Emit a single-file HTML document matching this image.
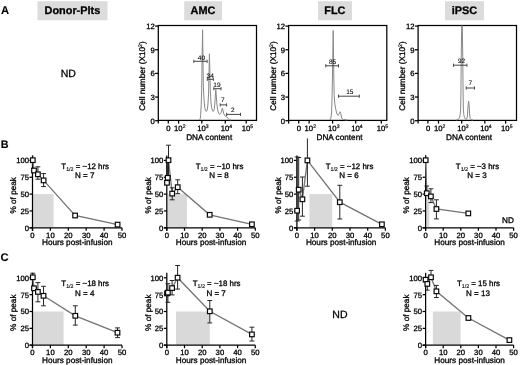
<!DOCTYPE html>
<html lang="en">
<head>
<meta charset="utf-8">
<title>Figure</title>
<style>
html,body{margin:0;padding:0;background:#fff;}
svg{display:block;will-change:transform;font-family:"Liberation Sans",Arial,Helvetica,sans-serif;fill:#000;text-rendering:geometricPrecision;}
text{stroke:#000;stroke-width:0.3px;stroke-linejoin:round;}
</style>
</head>
<body>
<svg width="520" height="365" viewBox="0 0 520 365">
<rect x="0" y="0" width="520" height="365" fill="#fff"/>
<text x="0.90" y="13.80" font-size="11.2" text-anchor="start" font-weight="bold" style="stroke-width:0.1px">A</text>
<text x="0.70" y="147.70" font-size="10.8" text-anchor="start" font-weight="bold" style="stroke-width:0.1px">B</text>
<text x="0.60" y="261.40" font-size="11.2" text-anchor="start" font-weight="bold" style="stroke-width:0.1px">C</text>
<rect x="37.50" y="1.20" width="70.00" height="19.10" fill="#dcdcdc"/>
<text x="72.40" y="14.35" font-size="10.9" text-anchor="middle" font-weight="bold">Donor-Plts</text>
<rect x="184.20" y="1.20" width="37.80" height="19.10" fill="#dcdcdc"/>
<text x="203.00" y="14.35" font-size="10.9" text-anchor="middle" font-weight="bold">AMC</text>
<rect x="318.00" y="1.20" width="34.00" height="19.10" fill="#dcdcdc"/>
<text x="334.90" y="14.35" font-size="10.9" text-anchor="middle" font-weight="bold">FLC</text>
<rect x="445.00" y="1.20" width="39.00" height="19.10" fill="#dcdcdc"/>
<text x="464.40" y="14.35" font-size="10.9" text-anchor="middle" font-weight="bold">iPSC</text>
<text x="68.30" y="77.20" font-size="10.5" text-anchor="middle">ND</text>
<text x="339.90" y="318.00" font-size="10.5" text-anchor="middle">ND</text>
<rect x="158.30" y="25.50" width="98.20" height="94.90" fill="none" stroke="#000" stroke-width="1.25"/>
<line x1="155.10" y1="26.10" x2="158.30" y2="26.10" stroke="#000" stroke-width="1.25"/>
<text x="154.70" y="29.00" font-size="7.7" text-anchor="end">12</text>
<line x1="155.10" y1="49.75" x2="158.30" y2="49.75" stroke="#000" stroke-width="1.25"/>
<text x="154.70" y="52.65" font-size="7.7" text-anchor="end">9</text>
<line x1="155.10" y1="73.40" x2="158.30" y2="73.40" stroke="#000" stroke-width="1.25"/>
<text x="154.70" y="76.30" font-size="7.7" text-anchor="end">6</text>
<line x1="155.10" y1="97.05" x2="158.30" y2="97.05" stroke="#000" stroke-width="1.25"/>
<text x="154.70" y="99.95" font-size="7.7" text-anchor="end">3</text>
<line x1="155.10" y1="120.70" x2="158.30" y2="120.70" stroke="#000" stroke-width="1.25"/>
<text x="154.70" y="123.60" font-size="7.7" text-anchor="end">0</text>
<line x1="168.30" y1="120.40" x2="168.30" y2="123.60" stroke="#000" stroke-width="1.25"/>
<text x="168.50" y="131.40" font-size="7.7" text-anchor="middle">0</text>
<line x1="178.60" y1="120.40" x2="178.60" y2="123.60" stroke="#000" stroke-width="1.25"/>
<text x="179.80" y="131.40" font-size="7.7" text-anchor="middle">10<tspan dy="-3" font-size="5.1" style="stroke-width:0.18px">2</tspan></text>
<line x1="201.80" y1="120.40" x2="201.80" y2="123.60" stroke="#000" stroke-width="1.25"/>
<text x="203.00" y="131.40" font-size="7.7" text-anchor="middle">10<tspan dy="-3" font-size="5.1" style="stroke-width:0.18px">3</tspan></text>
<line x1="225.30" y1="120.40" x2="225.30" y2="123.60" stroke="#000" stroke-width="1.25"/>
<text x="226.50" y="131.40" font-size="7.7" text-anchor="middle">10<tspan dy="-3" font-size="5.1" style="stroke-width:0.18px">4</tspan></text>
<line x1="246.20" y1="120.40" x2="246.20" y2="123.60" stroke="#000" stroke-width="1.25"/>
<text x="247.40" y="131.40" font-size="7.7" text-anchor="middle">10<tspan dy="-3" font-size="5.1" style="stroke-width:0.18px">5</tspan></text>
<line x1="158.30" y1="120.40" x2="158.30" y2="123.60" stroke="#000" stroke-width="1.25"/>
<text x="209.20" y="139.50" font-size="8.2" text-anchor="middle">DNA content</text>
<text transform="translate(145.30,76.00) rotate(-90)" font-size="8.2" text-anchor="middle">Cell number (X10<tspan dy="-3" font-size="5.1" style="stroke-width:0.18px">2</tspan><tspan dy="3">)</tspan></text>
<path d="M199.6,120 L200.3,118.5 L200.7,115 L201.2,105 L201.7,90 L202.05,60 L202.6,29.8 L203.0,60 L203.3,85 L204.0,100 L204.8,107.7 L205.5,110.5 L206.3,111.4 L207.2,110 L207.9,105 L208.5,95 L208.95,75 L209.45,53.8 L209.95,75 L210.3,90 L210.9,101 L211.6,107.5 L212.5,110.8 L213.4,111.4 L214.2,109.5 L214.8,104 L215.3,96 L215.8,89.6 L216.3,96 L216.9,104 L217.7,110 L218.7,113.5 L219.8,114.4 L220.8,113.3 L221.6,111 L222.4,108.2 L223.1,111 L223.9,114 L225.1,115.9 L226.2,116.6 L227.4,117.4 L228.4,118.9 L229.5,119.6 L231,120" fill="none" stroke="#888888" stroke-width="1.0" stroke-linejoin="round"/>
<line x1="193.80" y1="61.30" x2="207.10" y2="61.30" stroke="#3a3a3a" stroke-width="0.95"/>
<line x1="193.80" y1="59.70" x2="193.80" y2="62.90" stroke="#3a3a3a" stroke-width="0.9"/>
<line x1="207.10" y1="59.70" x2="207.10" y2="62.90" stroke="#3a3a3a" stroke-width="0.9"/>
<text x="201.40" y="59.90" font-size="6.5" text-anchor="middle" style="stroke-width:0.08px">40</text>
<line x1="207.30" y1="79.30" x2="213.40" y2="79.30" stroke="#3a3a3a" stroke-width="0.95"/>
<line x1="207.30" y1="77.70" x2="207.30" y2="80.90" stroke="#3a3a3a" stroke-width="0.9"/>
<line x1="213.40" y1="77.70" x2="213.40" y2="80.90" stroke="#3a3a3a" stroke-width="0.9"/>
<text x="210.20" y="77.50" font-size="6.5" text-anchor="middle" style="stroke-width:0.08px">34</text>
<line x1="213.80" y1="88.70" x2="221.00" y2="88.70" stroke="#3a3a3a" stroke-width="0.95"/>
<line x1="213.80" y1="87.10" x2="213.80" y2="90.30" stroke="#3a3a3a" stroke-width="0.9"/>
<line x1="221.00" y1="87.10" x2="221.00" y2="90.30" stroke="#3a3a3a" stroke-width="0.9"/>
<text x="216.90" y="86.90" font-size="6.5" text-anchor="middle" style="stroke-width:0.08px">19</text>
<line x1="220.20" y1="104.90" x2="226.60" y2="104.90" stroke="#3a3a3a" stroke-width="0.95"/>
<line x1="220.20" y1="103.30" x2="220.20" y2="106.50" stroke="#3a3a3a" stroke-width="0.9"/>
<line x1="226.60" y1="103.30" x2="226.60" y2="106.50" stroke="#3a3a3a" stroke-width="0.9"/>
<text x="222.90" y="102.40" font-size="6.5" text-anchor="middle" style="stroke-width:0.08px">7</text>
<line x1="226.60" y1="114.40" x2="240.50" y2="114.40" stroke="#3a3a3a" stroke-width="0.95"/>
<line x1="226.60" y1="112.80" x2="226.60" y2="116.00" stroke="#3a3a3a" stroke-width="0.9"/>
<line x1="240.50" y1="112.80" x2="240.50" y2="116.00" stroke="#3a3a3a" stroke-width="0.9"/>
<text x="232.70" y="112.20" font-size="6.5" text-anchor="middle" style="stroke-width:0.08px">2</text>
<rect x="288.60" y="25.50" width="98.20" height="94.90" fill="none" stroke="#000" stroke-width="1.25"/>
<line x1="285.40" y1="26.10" x2="288.60" y2="26.10" stroke="#000" stroke-width="1.25"/>
<text x="285.00" y="29.00" font-size="7.7" text-anchor="end">12</text>
<line x1="285.40" y1="49.75" x2="288.60" y2="49.75" stroke="#000" stroke-width="1.25"/>
<text x="285.00" y="52.65" font-size="7.7" text-anchor="end">9</text>
<line x1="285.40" y1="73.40" x2="288.60" y2="73.40" stroke="#000" stroke-width="1.25"/>
<text x="285.00" y="76.30" font-size="7.7" text-anchor="end">6</text>
<line x1="285.40" y1="97.05" x2="288.60" y2="97.05" stroke="#000" stroke-width="1.25"/>
<text x="285.00" y="99.95" font-size="7.7" text-anchor="end">3</text>
<line x1="285.40" y1="120.70" x2="288.60" y2="120.70" stroke="#000" stroke-width="1.25"/>
<text x="285.00" y="123.60" font-size="7.7" text-anchor="end">0</text>
<line x1="298.70" y1="120.40" x2="298.70" y2="123.60" stroke="#000" stroke-width="1.25"/>
<text x="298.90" y="131.40" font-size="7.7" text-anchor="middle">0</text>
<line x1="309.10" y1="120.40" x2="309.10" y2="123.60" stroke="#000" stroke-width="1.25"/>
<text x="310.30" y="131.40" font-size="7.7" text-anchor="middle">10<tspan dy="-3" font-size="5.1" style="stroke-width:0.18px">2</tspan></text>
<line x1="332.60" y1="120.40" x2="332.60" y2="123.60" stroke="#000" stroke-width="1.25"/>
<text x="333.80" y="131.40" font-size="7.7" text-anchor="middle">10<tspan dy="-3" font-size="5.1" style="stroke-width:0.18px">3</tspan></text>
<line x1="355.70" y1="120.40" x2="355.70" y2="123.60" stroke="#000" stroke-width="1.25"/>
<text x="356.90" y="131.40" font-size="7.7" text-anchor="middle">10<tspan dy="-3" font-size="5.1" style="stroke-width:0.18px">4</tspan></text>
<line x1="381.30" y1="120.40" x2="381.30" y2="123.60" stroke="#000" stroke-width="1.25"/>
<text x="382.50" y="131.40" font-size="7.7" text-anchor="middle">10<tspan dy="-3" font-size="5.1" style="stroke-width:0.18px">5</tspan></text>
<line x1="288.60" y1="120.40" x2="288.60" y2="123.60" stroke="#000" stroke-width="1.25"/>
<text x="339.50" y="139.50" font-size="8.2" text-anchor="middle">DNA content</text>
<text transform="translate(275.60,76.00) rotate(-90)" font-size="8.2" text-anchor="middle">Cell number (X10<tspan dy="-3" font-size="5.1" style="stroke-width:0.18px">2</tspan><tspan dy="3">)</tspan></text>
<path d="M329.8,120 L330.6,119 L331.2,116 L331.6,112 L332.0,100 L332.5,75 L333.2,30.5 L333.8,75 L334.2,95.5 L334.8,104 L335.75,109.2 L336.6,113 L337.8,115.4 L338.8,114.5 L339.5,112.5 L340.1,111.7 L340.8,113.5 L341.4,117 L341.9,118.6 L343.5,119.5 L347.4,120" fill="none" stroke="#888888" stroke-width="1.0" stroke-linejoin="round"/>
<line x1="325.75" y1="65.80" x2="338.50" y2="65.80" stroke="#3a3a3a" stroke-width="0.95"/>
<line x1="325.75" y1="64.20" x2="325.75" y2="67.40" stroke="#3a3a3a" stroke-width="0.9"/>
<line x1="338.50" y1="64.20" x2="338.50" y2="67.40" stroke="#3a3a3a" stroke-width="0.9"/>
<text x="332.50" y="63.80" font-size="6.5" text-anchor="middle" style="stroke-width:0.08px">85</text>
<line x1="338.50" y1="96.20" x2="359.30" y2="96.20" stroke="#3a3a3a" stroke-width="0.95"/>
<line x1="338.50" y1="94.60" x2="338.50" y2="97.80" stroke="#3a3a3a" stroke-width="0.9"/>
<line x1="359.30" y1="94.60" x2="359.30" y2="97.80" stroke="#3a3a3a" stroke-width="0.9"/>
<text x="349.80" y="93.50" font-size="6.5" text-anchor="middle" style="stroke-width:0.08px">15</text>
<rect x="418.10" y="25.50" width="98.40" height="94.90" fill="none" stroke="#000" stroke-width="1.25"/>
<line x1="414.90" y1="26.10" x2="418.10" y2="26.10" stroke="#000" stroke-width="1.25"/>
<text x="414.50" y="29.00" font-size="7.7" text-anchor="end">12</text>
<line x1="414.90" y1="49.75" x2="418.10" y2="49.75" stroke="#000" stroke-width="1.25"/>
<text x="414.50" y="52.65" font-size="7.7" text-anchor="end">9</text>
<line x1="414.90" y1="73.40" x2="418.10" y2="73.40" stroke="#000" stroke-width="1.25"/>
<text x="414.50" y="76.30" font-size="7.7" text-anchor="end">6</text>
<line x1="414.90" y1="97.05" x2="418.10" y2="97.05" stroke="#000" stroke-width="1.25"/>
<text x="414.50" y="99.95" font-size="7.7" text-anchor="end">3</text>
<line x1="414.90" y1="120.70" x2="418.10" y2="120.70" stroke="#000" stroke-width="1.25"/>
<text x="414.50" y="123.60" font-size="7.7" text-anchor="end">0</text>
<line x1="427.90" y1="120.40" x2="427.90" y2="123.60" stroke="#000" stroke-width="1.25"/>
<text x="428.10" y="131.40" font-size="7.7" text-anchor="middle">0</text>
<line x1="438.50" y1="120.40" x2="438.50" y2="123.60" stroke="#000" stroke-width="1.25"/>
<text x="439.70" y="131.40" font-size="7.7" text-anchor="middle">10<tspan dy="-3" font-size="5.1" style="stroke-width:0.18px">2</tspan></text>
<line x1="461.70" y1="120.40" x2="461.70" y2="123.60" stroke="#000" stroke-width="1.25"/>
<text x="462.90" y="131.40" font-size="7.7" text-anchor="middle">10<tspan dy="-3" font-size="5.1" style="stroke-width:0.18px">3</tspan></text>
<line x1="484.80" y1="120.40" x2="484.80" y2="123.60" stroke="#000" stroke-width="1.25"/>
<text x="486.00" y="131.40" font-size="7.7" text-anchor="middle">10<tspan dy="-3" font-size="5.1" style="stroke-width:0.18px">4</tspan></text>
<line x1="505.60" y1="120.40" x2="505.60" y2="123.60" stroke="#000" stroke-width="1.25"/>
<text x="506.80" y="131.40" font-size="7.7" text-anchor="middle">10<tspan dy="-3" font-size="5.1" style="stroke-width:0.18px">5</tspan></text>
<line x1="418.10" y1="120.40" x2="418.10" y2="123.60" stroke="#000" stroke-width="1.25"/>
<text x="469.10" y="139.50" font-size="8.2" text-anchor="middle">DNA content</text>
<text transform="translate(405.10,76.00) rotate(-90)" font-size="8.2" text-anchor="middle">Cell number (X10<tspan dy="-3" font-size="5.1" style="stroke-width:0.18px">2</tspan><tspan dy="3">)</tspan></text>
<path d="M456,120 L457.5,119.6 L458.8,118.8 L459.6,117.3 L460.2,114.5 L460.6,110 L460.9,95 L461.2,60 L461.7,25.8 L462.3,25.8 L462.8,60 L463.1,95 L463.4,110 L463.8,114.5 L464.4,117.3 L465.2,118.8 L466.2,119.4 L466.9,118.8 L467.5,115 L468.0,106 L468.6,101 L469.2,106 L469.7,115 L470.3,118.8 L471.2,119.7 L473,120" fill="none" stroke="#888888" stroke-width="1.0" stroke-linejoin="round"/>
<line x1="453.50" y1="65.20" x2="466.90" y2="65.20" stroke="#3a3a3a" stroke-width="0.95"/>
<line x1="453.50" y1="63.60" x2="453.50" y2="66.80" stroke="#3a3a3a" stroke-width="0.9"/>
<line x1="466.90" y1="63.60" x2="466.90" y2="66.80" stroke="#3a3a3a" stroke-width="0.9"/>
<text x="461.60" y="63.10" font-size="6.5" text-anchor="middle" style="stroke-width:0.08px">92</text>
<line x1="466.20" y1="88.00" x2="474.50" y2="88.00" stroke="#3a3a3a" stroke-width="0.95"/>
<line x1="466.20" y1="86.40" x2="466.20" y2="89.60" stroke="#3a3a3a" stroke-width="0.9"/>
<line x1="474.50" y1="86.40" x2="474.50" y2="89.60" stroke="#3a3a3a" stroke-width="0.9"/>
<text x="470.30" y="85.30" font-size="6.5" text-anchor="middle" style="stroke-width:0.08px">7</text>
<rect x="33.10" y="194.10" width="20.50" height="33.30" fill="#d9d9d9"/>
<line x1="32.50" y1="155.40" x2="32.50" y2="230.80" stroke="#000" stroke-width="1.25"/>
<line x1="29.50" y1="227.80" x2="122.00" y2="227.80" stroke="#000" stroke-width="1.25"/>
<line x1="29.50" y1="227.80" x2="32.50" y2="227.80" stroke="#000" stroke-width="1.25"/>
<text x="29.00" y="230.70" font-size="7.7" text-anchor="end">0</text>
<line x1="29.50" y1="210.95" x2="32.50" y2="210.95" stroke="#000" stroke-width="1.25"/>
<text x="29.00" y="213.85" font-size="7.7" text-anchor="end">25</text>
<line x1="29.50" y1="194.10" x2="32.50" y2="194.10" stroke="#000" stroke-width="1.25"/>
<text x="29.00" y="197.00" font-size="7.7" text-anchor="end">50</text>
<line x1="29.50" y1="177.25" x2="32.50" y2="177.25" stroke="#000" stroke-width="1.25"/>
<text x="29.00" y="180.15" font-size="7.7" text-anchor="end">75</text>
<line x1="29.50" y1="160.40" x2="32.50" y2="160.40" stroke="#000" stroke-width="1.25"/>
<text x="29.00" y="163.30" font-size="7.7" text-anchor="end">100</text>
<line x1="32.50" y1="227.80" x2="32.50" y2="230.80" stroke="#000" stroke-width="1.25"/>
<text x="32.50" y="237.90" font-size="7.7" text-anchor="middle">0</text>
<line x1="50.40" y1="227.80" x2="50.40" y2="230.80" stroke="#000" stroke-width="1.25"/>
<text x="50.40" y="237.90" font-size="7.7" text-anchor="middle">10</text>
<line x1="68.30" y1="227.80" x2="68.30" y2="230.80" stroke="#000" stroke-width="1.25"/>
<text x="68.30" y="237.90" font-size="7.7" text-anchor="middle">20</text>
<line x1="86.20" y1="227.80" x2="86.20" y2="230.80" stroke="#000" stroke-width="1.25"/>
<text x="86.20" y="237.90" font-size="7.7" text-anchor="middle">30</text>
<line x1="104.10" y1="227.80" x2="104.10" y2="230.80" stroke="#000" stroke-width="1.25"/>
<text x="104.10" y="237.90" font-size="7.7" text-anchor="middle">40</text>
<line x1="122.00" y1="227.80" x2="122.00" y2="230.80" stroke="#000" stroke-width="1.25"/>
<text x="122.00" y="237.90" font-size="7.7" text-anchor="middle">50</text>
<text x="77.25" y="245.10" font-size="8.2" text-anchor="middle">Hours post-infusion</text>
<text transform="translate(16.30,195.30) rotate(-90)" font-size="8.2" text-anchor="middle">% of peak</text>
<path d="M32.80,160.20 L34.00,170.50 L37.90,174.30 L43.60,180.40 L75.10,215.50 L117.60,224.60" fill="none" stroke="#747474" stroke-width="1.3"/>
<line x1="32.80" y1="155.60" x2="32.80" y2="160.20" stroke="#262626" stroke-width="1.0"/>
<line x1="37.90" y1="166.80" x2="37.90" y2="174.30" stroke="#262626" stroke-width="1.0"/>
<line x1="35.50" y1="166.80" x2="40.30" y2="166.80" stroke="#262626" stroke-width="1.0"/>
<line x1="37.90" y1="174.30" x2="37.90" y2="179.20" stroke="#262626" stroke-width="1.0"/>
<line x1="35.50" y1="179.20" x2="40.30" y2="179.20" stroke="#262626" stroke-width="1.0"/>
<line x1="43.60" y1="173.60" x2="43.60" y2="180.40" stroke="#262626" stroke-width="1.0"/>
<line x1="41.20" y1="173.60" x2="46.00" y2="173.60" stroke="#262626" stroke-width="1.0"/>
<line x1="43.60" y1="180.40" x2="43.60" y2="186.60" stroke="#262626" stroke-width="1.0"/>
<line x1="41.20" y1="186.60" x2="46.00" y2="186.60" stroke="#262626" stroke-width="1.0"/>
<rect x="30.50" y="157.90" width="4.60" height="4.60" fill="#fff" stroke="#0a0a0a" stroke-width="1.2"/>
<rect x="31.70" y="168.20" width="4.60" height="4.60" fill="#fff" stroke="#0a0a0a" stroke-width="1.2"/>
<rect x="35.60" y="172.00" width="4.60" height="4.60" fill="#fff" stroke="#0a0a0a" stroke-width="1.2"/>
<rect x="41.30" y="178.10" width="4.60" height="4.60" fill="#fff" stroke="#0a0a0a" stroke-width="1.2"/>
<rect x="72.80" y="213.20" width="4.60" height="4.60" fill="#fff" stroke="#0a0a0a" stroke-width="1.2"/>
<rect x="115.30" y="222.30" width="4.60" height="4.60" fill="#fff" stroke="#0a0a0a" stroke-width="1.2"/>
<text x="85.20" y="168.70" font-size="7.9" text-anchor="middle">T<tspan dy="2" font-size="5.3" style="stroke-width:0.12px">1/2</tspan><tspan dy="-2"> = ~12 hrs</tspan></text>
<text x="84.70" y="178.40" font-size="8.0" text-anchor="middle">N = 7</text>
<rect x="167.40" y="194.10" width="19.60" height="33.30" fill="#d9d9d9"/>
<line x1="166.80" y1="155.40" x2="166.80" y2="230.80" stroke="#000" stroke-width="1.25"/>
<line x1="163.80" y1="227.80" x2="255.30" y2="227.80" stroke="#000" stroke-width="1.25"/>
<line x1="163.80" y1="227.80" x2="166.80" y2="227.80" stroke="#000" stroke-width="1.25"/>
<text x="163.30" y="230.70" font-size="7.7" text-anchor="end">0</text>
<line x1="163.80" y1="210.95" x2="166.80" y2="210.95" stroke="#000" stroke-width="1.25"/>
<text x="163.30" y="213.85" font-size="7.7" text-anchor="end">25</text>
<line x1="163.80" y1="194.10" x2="166.80" y2="194.10" stroke="#000" stroke-width="1.25"/>
<text x="163.30" y="197.00" font-size="7.7" text-anchor="end">50</text>
<line x1="163.80" y1="177.25" x2="166.80" y2="177.25" stroke="#000" stroke-width="1.25"/>
<text x="163.30" y="180.15" font-size="7.7" text-anchor="end">75</text>
<line x1="163.80" y1="160.40" x2="166.80" y2="160.40" stroke="#000" stroke-width="1.25"/>
<text x="163.30" y="163.30" font-size="7.7" text-anchor="end">100</text>
<line x1="166.80" y1="227.80" x2="166.80" y2="230.80" stroke="#000" stroke-width="1.25"/>
<text x="166.80" y="237.90" font-size="7.7" text-anchor="middle">0</text>
<line x1="184.50" y1="227.80" x2="184.50" y2="230.80" stroke="#000" stroke-width="1.25"/>
<text x="184.50" y="237.90" font-size="7.7" text-anchor="middle">10</text>
<line x1="202.20" y1="227.80" x2="202.20" y2="230.80" stroke="#000" stroke-width="1.25"/>
<text x="202.20" y="237.90" font-size="7.7" text-anchor="middle">20</text>
<line x1="219.90" y1="227.80" x2="219.90" y2="230.80" stroke="#000" stroke-width="1.25"/>
<text x="219.90" y="237.90" font-size="7.7" text-anchor="middle">30</text>
<line x1="237.60" y1="227.80" x2="237.60" y2="230.80" stroke="#000" stroke-width="1.25"/>
<text x="237.60" y="237.90" font-size="7.7" text-anchor="middle">40</text>
<line x1="255.30" y1="227.80" x2="255.30" y2="230.80" stroke="#000" stroke-width="1.25"/>
<text x="255.30" y="237.90" font-size="7.7" text-anchor="middle">50</text>
<text x="211.05" y="245.10" font-size="8.2" text-anchor="middle">Hours post-infusion</text>
<text transform="translate(150.60,195.30) rotate(-90)" font-size="8.2" text-anchor="middle">% of peak</text>
<path d="M167.70,177.80 L167.00,182.80 L168.50,160.20 L172.20,193.60 L177.70,187.20 L209.70,214.80 L251.90,224.30" fill="none" stroke="#747474" stroke-width="1.3"/>
<line x1="167.70" y1="163.00" x2="167.70" y2="177.80" stroke="#262626" stroke-width="1.0"/>
<line x1="167.00" y1="166.00" x2="167.00" y2="182.80" stroke="#262626" stroke-width="1.0"/>
<line x1="168.50" y1="145.20" x2="168.50" y2="160.20" stroke="#262626" stroke-width="1.0"/>
<line x1="166.10" y1="145.20" x2="170.90" y2="145.20" stroke="#262626" stroke-width="1.0"/>
<line x1="168.50" y1="160.20" x2="168.50" y2="176.00" stroke="#262626" stroke-width="1.0"/>
<line x1="166.10" y1="176.00" x2="170.90" y2="176.00" stroke="#262626" stroke-width="1.0"/>
<line x1="172.20" y1="187.80" x2="172.20" y2="193.60" stroke="#262626" stroke-width="1.0"/>
<line x1="169.80" y1="187.80" x2="174.60" y2="187.80" stroke="#262626" stroke-width="1.0"/>
<line x1="172.20" y1="193.60" x2="172.20" y2="199.80" stroke="#262626" stroke-width="1.0"/>
<line x1="169.80" y1="199.80" x2="174.60" y2="199.80" stroke="#262626" stroke-width="1.0"/>
<line x1="177.70" y1="179.80" x2="177.70" y2="187.20" stroke="#262626" stroke-width="1.0"/>
<line x1="175.30" y1="179.80" x2="180.10" y2="179.80" stroke="#262626" stroke-width="1.0"/>
<line x1="177.70" y1="187.20" x2="177.70" y2="193.60" stroke="#262626" stroke-width="1.0"/>
<line x1="175.30" y1="193.60" x2="180.10" y2="193.60" stroke="#262626" stroke-width="1.0"/>
<rect x="165.40" y="175.50" width="4.60" height="4.60" fill="#fff" stroke="#0a0a0a" stroke-width="1.2"/>
<rect x="164.70" y="180.50" width="4.60" height="4.60" fill="#fff" stroke="#0a0a0a" stroke-width="1.2"/>
<rect x="166.20" y="157.90" width="4.60" height="4.60" fill="#fff" stroke="#0a0a0a" stroke-width="1.2"/>
<rect x="169.90" y="191.30" width="4.60" height="4.60" fill="#fff" stroke="#0a0a0a" stroke-width="1.2"/>
<rect x="175.40" y="184.90" width="4.60" height="4.60" fill="#fff" stroke="#0a0a0a" stroke-width="1.2"/>
<rect x="207.40" y="212.50" width="4.60" height="4.60" fill="#fff" stroke="#0a0a0a" stroke-width="1.2"/>
<rect x="249.60" y="222.00" width="4.60" height="4.60" fill="#fff" stroke="#0a0a0a" stroke-width="1.2"/>
<text x="219.50" y="168.70" font-size="7.9" text-anchor="middle">T<tspan dy="2" font-size="5.3" style="stroke-width:0.12px">1/2</tspan><tspan dy="-2"> = ~10 hrs</tspan></text>
<text x="219.00" y="178.40" font-size="8.0" text-anchor="middle">N = 8</text>
<rect x="309.40" y="194.10" width="22.80" height="33.30" fill="#d9d9d9"/>
<line x1="296.90" y1="155.40" x2="296.90" y2="230.80" stroke="#000" stroke-width="1.25"/>
<line x1="293.90" y1="227.80" x2="385.40" y2="227.80" stroke="#000" stroke-width="1.25"/>
<line x1="293.90" y1="227.80" x2="296.90" y2="227.80" stroke="#000" stroke-width="1.25"/>
<text x="293.40" y="230.70" font-size="7.7" text-anchor="end">0</text>
<line x1="293.90" y1="210.95" x2="296.90" y2="210.95" stroke="#000" stroke-width="1.25"/>
<text x="293.40" y="213.85" font-size="7.7" text-anchor="end">25</text>
<line x1="293.90" y1="194.10" x2="296.90" y2="194.10" stroke="#000" stroke-width="1.25"/>
<text x="293.40" y="197.00" font-size="7.7" text-anchor="end">50</text>
<line x1="293.90" y1="177.25" x2="296.90" y2="177.25" stroke="#000" stroke-width="1.25"/>
<text x="293.40" y="180.15" font-size="7.7" text-anchor="end">75</text>
<line x1="293.90" y1="160.40" x2="296.90" y2="160.40" stroke="#000" stroke-width="1.25"/>
<text x="293.40" y="163.30" font-size="7.7" text-anchor="end">100</text>
<line x1="296.90" y1="227.80" x2="296.90" y2="230.80" stroke="#000" stroke-width="1.25"/>
<text x="296.90" y="237.90" font-size="7.7" text-anchor="middle">0</text>
<line x1="314.60" y1="227.80" x2="314.60" y2="230.80" stroke="#000" stroke-width="1.25"/>
<text x="314.60" y="237.90" font-size="7.7" text-anchor="middle">10</text>
<line x1="332.30" y1="227.80" x2="332.30" y2="230.80" stroke="#000" stroke-width="1.25"/>
<text x="332.30" y="237.90" font-size="7.7" text-anchor="middle">20</text>
<line x1="350.00" y1="227.80" x2="350.00" y2="230.80" stroke="#000" stroke-width="1.25"/>
<text x="350.00" y="237.90" font-size="7.7" text-anchor="middle">30</text>
<line x1="367.70" y1="227.80" x2="367.70" y2="230.80" stroke="#000" stroke-width="1.25"/>
<text x="367.70" y="237.90" font-size="7.7" text-anchor="middle">40</text>
<line x1="385.40" y1="227.80" x2="385.40" y2="230.80" stroke="#000" stroke-width="1.25"/>
<text x="385.40" y="237.90" font-size="7.7" text-anchor="middle">50</text>
<text x="341.15" y="245.10" font-size="8.2" text-anchor="middle">Hours post-infusion</text>
<text transform="translate(280.70,195.30) rotate(-90)" font-size="8.2" text-anchor="middle">% of peak</text>
<path d="M297.10,210.70 L298.70,189.70 L302.40,199.30 L307.40,160.40 L339.80,202.20 L381.90,224.30" fill="none" stroke="#747474" stroke-width="1.3"/>
<line x1="297.10" y1="157.00" x2="297.10" y2="210.70" stroke="#262626" stroke-width="1.0"/>
<line x1="294.70" y1="157.00" x2="299.50" y2="157.00" stroke="#262626" stroke-width="1.0"/>
<line x1="297.10" y1="210.70" x2="297.10" y2="221.00" stroke="#262626" stroke-width="1.0"/>
<line x1="294.70" y1="221.00" x2="299.50" y2="221.00" stroke="#262626" stroke-width="1.0"/>
<line x1="298.70" y1="157.50" x2="298.70" y2="189.70" stroke="#262626" stroke-width="1.0"/>
<line x1="296.30" y1="157.50" x2="301.10" y2="157.50" stroke="#262626" stroke-width="1.0"/>
<line x1="298.70" y1="189.70" x2="298.70" y2="220.00" stroke="#262626" stroke-width="1.0"/>
<line x1="296.30" y1="220.00" x2="301.10" y2="220.00" stroke="#262626" stroke-width="1.0"/>
<line x1="302.40" y1="177.00" x2="302.40" y2="199.30" stroke="#262626" stroke-width="1.0"/>
<line x1="300.00" y1="177.00" x2="304.80" y2="177.00" stroke="#262626" stroke-width="1.0"/>
<line x1="302.40" y1="199.30" x2="302.40" y2="216.20" stroke="#262626" stroke-width="1.0"/>
<line x1="300.00" y1="216.20" x2="304.80" y2="216.20" stroke="#262626" stroke-width="1.0"/>
<line x1="307.40" y1="138.40" x2="307.40" y2="160.40" stroke="#262626" stroke-width="1.0"/>
<line x1="307.40" y1="160.40" x2="307.40" y2="186.20" stroke="#262626" stroke-width="1.0"/>
<line x1="305.00" y1="186.20" x2="309.80" y2="186.20" stroke="#262626" stroke-width="1.0"/>
<line x1="339.80" y1="185.30" x2="339.80" y2="202.20" stroke="#262626" stroke-width="1.0"/>
<line x1="337.40" y1="185.30" x2="342.20" y2="185.30" stroke="#262626" stroke-width="1.0"/>
<line x1="339.80" y1="202.20" x2="339.80" y2="219.00" stroke="#262626" stroke-width="1.0"/>
<line x1="337.40" y1="219.00" x2="342.20" y2="219.00" stroke="#262626" stroke-width="1.0"/>
<rect x="294.80" y="208.40" width="4.60" height="4.60" fill="#fff" stroke="#0a0a0a" stroke-width="1.2"/>
<rect x="296.40" y="187.40" width="4.60" height="4.60" fill="#fff" stroke="#0a0a0a" stroke-width="1.2"/>
<rect x="300.10" y="197.00" width="4.60" height="4.60" fill="#fff" stroke="#0a0a0a" stroke-width="1.2"/>
<rect x="305.10" y="158.10" width="4.60" height="4.60" fill="#fff" stroke="#0a0a0a" stroke-width="1.2"/>
<rect x="337.50" y="199.90" width="4.60" height="4.60" fill="#fff" stroke="#0a0a0a" stroke-width="1.2"/>
<rect x="379.60" y="222.00" width="4.60" height="4.60" fill="#fff" stroke="#0a0a0a" stroke-width="1.2"/>
<text x="349.50" y="168.70" font-size="7.9" text-anchor="middle">T<tspan dy="2" font-size="5.3" style="stroke-width:0.12px">1/2</tspan><tspan dy="-2"> = ~12 hrs</tspan></text>
<text x="349.00" y="178.40" font-size="8.0" text-anchor="middle">N = 6</text>
<rect x="426.30" y="194.10" width="3.00" height="33.30" fill="#d9d9d9"/>
<line x1="425.60" y1="155.40" x2="425.60" y2="230.80" stroke="#000" stroke-width="1.25"/>
<line x1="422.60" y1="227.80" x2="513.60" y2="227.80" stroke="#000" stroke-width="1.25"/>
<line x1="422.60" y1="227.80" x2="425.60" y2="227.80" stroke="#000" stroke-width="1.25"/>
<text x="422.10" y="230.70" font-size="7.7" text-anchor="end">0</text>
<line x1="422.60" y1="210.95" x2="425.60" y2="210.95" stroke="#000" stroke-width="1.25"/>
<text x="422.10" y="213.85" font-size="7.7" text-anchor="end">25</text>
<line x1="422.60" y1="194.10" x2="425.60" y2="194.10" stroke="#000" stroke-width="1.25"/>
<text x="422.10" y="197.00" font-size="7.7" text-anchor="end">50</text>
<line x1="422.60" y1="177.25" x2="425.60" y2="177.25" stroke="#000" stroke-width="1.25"/>
<text x="422.10" y="180.15" font-size="7.7" text-anchor="end">75</text>
<line x1="422.60" y1="160.40" x2="425.60" y2="160.40" stroke="#000" stroke-width="1.25"/>
<text x="422.10" y="163.30" font-size="7.7" text-anchor="end">100</text>
<line x1="425.60" y1="227.80" x2="425.60" y2="230.80" stroke="#000" stroke-width="1.25"/>
<text x="425.60" y="237.90" font-size="7.7" text-anchor="middle">0</text>
<line x1="443.20" y1="227.80" x2="443.20" y2="230.80" stroke="#000" stroke-width="1.25"/>
<text x="443.20" y="237.90" font-size="7.7" text-anchor="middle">10</text>
<line x1="460.80" y1="227.80" x2="460.80" y2="230.80" stroke="#000" stroke-width="1.25"/>
<text x="460.80" y="237.90" font-size="7.7" text-anchor="middle">20</text>
<line x1="478.40" y1="227.80" x2="478.40" y2="230.80" stroke="#000" stroke-width="1.25"/>
<text x="478.40" y="237.90" font-size="7.7" text-anchor="middle">30</text>
<line x1="496.00" y1="227.80" x2="496.00" y2="230.80" stroke="#000" stroke-width="1.25"/>
<text x="496.00" y="237.90" font-size="7.7" text-anchor="middle">40</text>
<line x1="513.60" y1="227.80" x2="513.60" y2="230.80" stroke="#000" stroke-width="1.25"/>
<text x="513.60" y="237.90" font-size="7.7" text-anchor="middle">50</text>
<text x="469.60" y="245.10" font-size="8.2" text-anchor="middle">Hours post-infusion</text>
<text transform="translate(409.40,195.30) rotate(-90)" font-size="8.2" text-anchor="middle">% of peak</text>
<path d="M425.70,160.20 L426.80,193.20 L430.90,196.40 L436.40,209.00 L468.30,213.40" fill="none" stroke="#747474" stroke-width="1.3"/>
<line x1="425.70" y1="155.00" x2="425.70" y2="160.20" stroke="#262626" stroke-width="1.0"/>
<line x1="426.80" y1="186.00" x2="426.80" y2="193.20" stroke="#262626" stroke-width="1.0"/>
<line x1="424.40" y1="186.00" x2="429.20" y2="186.00" stroke="#262626" stroke-width="1.0"/>
<line x1="430.90" y1="188.80" x2="430.90" y2="196.40" stroke="#262626" stroke-width="1.0"/>
<line x1="428.50" y1="188.80" x2="433.30" y2="188.80" stroke="#262626" stroke-width="1.0"/>
<line x1="430.90" y1="196.40" x2="430.90" y2="202.60" stroke="#262626" stroke-width="1.0"/>
<line x1="428.50" y1="202.60" x2="433.30" y2="202.60" stroke="#262626" stroke-width="1.0"/>
<line x1="436.40" y1="199.80" x2="436.40" y2="209.00" stroke="#262626" stroke-width="1.0"/>
<line x1="434.00" y1="199.80" x2="438.80" y2="199.80" stroke="#262626" stroke-width="1.0"/>
<line x1="436.40" y1="209.00" x2="436.40" y2="218.90" stroke="#262626" stroke-width="1.0"/>
<line x1="434.00" y1="218.90" x2="438.80" y2="218.90" stroke="#262626" stroke-width="1.0"/>
<rect x="423.40" y="157.90" width="4.60" height="4.60" fill="#fff" stroke="#0a0a0a" stroke-width="1.2"/>
<rect x="424.50" y="190.90" width="4.60" height="4.60" fill="#fff" stroke="#0a0a0a" stroke-width="1.2"/>
<rect x="428.60" y="194.10" width="4.60" height="4.60" fill="#fff" stroke="#0a0a0a" stroke-width="1.2"/>
<rect x="434.10" y="206.70" width="4.60" height="4.60" fill="#fff" stroke="#0a0a0a" stroke-width="1.2"/>
<rect x="466.00" y="211.10" width="4.60" height="4.60" fill="#fff" stroke="#0a0a0a" stroke-width="1.2"/>
<text x="477.50" y="168.70" font-size="7.9" text-anchor="middle">T<tspan dy="2" font-size="5.3" style="stroke-width:0.12px">1/2</tspan><tspan dy="-2"> = ~3 hrs</tspan></text>
<text x="477.00" y="178.40" font-size="8.0" text-anchor="middle">N = 3</text>
<text x="508.00" y="222.90" font-size="8.2" text-anchor="middle">ND</text>
<rect x="33.10" y="311.50" width="30.50" height="33.30" fill="#d9d9d9"/>
<line x1="32.50" y1="272.80" x2="32.50" y2="348.20" stroke="#000" stroke-width="1.25"/>
<line x1="29.50" y1="345.20" x2="122.00" y2="345.20" stroke="#000" stroke-width="1.25"/>
<line x1="29.50" y1="345.20" x2="32.50" y2="345.20" stroke="#000" stroke-width="1.25"/>
<text x="29.00" y="348.10" font-size="7.7" text-anchor="end">0</text>
<line x1="29.50" y1="328.35" x2="32.50" y2="328.35" stroke="#000" stroke-width="1.25"/>
<text x="29.00" y="331.25" font-size="7.7" text-anchor="end">25</text>
<line x1="29.50" y1="311.50" x2="32.50" y2="311.50" stroke="#000" stroke-width="1.25"/>
<text x="29.00" y="314.40" font-size="7.7" text-anchor="end">50</text>
<line x1="29.50" y1="294.65" x2="32.50" y2="294.65" stroke="#000" stroke-width="1.25"/>
<text x="29.00" y="297.55" font-size="7.7" text-anchor="end">75</text>
<line x1="29.50" y1="277.80" x2="32.50" y2="277.80" stroke="#000" stroke-width="1.25"/>
<text x="29.00" y="280.70" font-size="7.7" text-anchor="end">100</text>
<line x1="32.50" y1="345.20" x2="32.50" y2="348.20" stroke="#000" stroke-width="1.25"/>
<text x="32.50" y="355.30" font-size="7.7" text-anchor="middle">0</text>
<line x1="50.40" y1="345.20" x2="50.40" y2="348.20" stroke="#000" stroke-width="1.25"/>
<text x="50.40" y="355.30" font-size="7.7" text-anchor="middle">10</text>
<line x1="68.30" y1="345.20" x2="68.30" y2="348.20" stroke="#000" stroke-width="1.25"/>
<text x="68.30" y="355.30" font-size="7.7" text-anchor="middle">20</text>
<line x1="86.20" y1="345.20" x2="86.20" y2="348.20" stroke="#000" stroke-width="1.25"/>
<text x="86.20" y="355.30" font-size="7.7" text-anchor="middle">30</text>
<line x1="104.10" y1="345.20" x2="104.10" y2="348.20" stroke="#000" stroke-width="1.25"/>
<text x="104.10" y="355.30" font-size="7.7" text-anchor="middle">40</text>
<line x1="122.00" y1="345.20" x2="122.00" y2="348.20" stroke="#000" stroke-width="1.25"/>
<text x="122.00" y="355.30" font-size="7.7" text-anchor="middle">50</text>
<text x="77.25" y="362.50" font-size="8.2" text-anchor="middle">Hours post-infusion</text>
<text transform="translate(16.30,312.70) rotate(-90)" font-size="8.2" text-anchor="middle">% of peak</text>
<path d="M32.80,277.30 L34.00,288.30 L37.90,291.90 L43.50,295.80 L75.30,315.80 L117.50,332.70" fill="none" stroke="#747474" stroke-width="1.3"/>
<line x1="32.80" y1="273.20" x2="32.80" y2="277.30" stroke="#262626" stroke-width="1.0"/>
<line x1="30.40" y1="273.20" x2="35.20" y2="273.20" stroke="#262626" stroke-width="1.0"/>
<line x1="37.90" y1="282.60" x2="37.90" y2="291.90" stroke="#262626" stroke-width="1.0"/>
<line x1="35.50" y1="282.60" x2="40.30" y2="282.60" stroke="#262626" stroke-width="1.0"/>
<line x1="37.90" y1="291.90" x2="37.90" y2="301.80" stroke="#262626" stroke-width="1.0"/>
<line x1="35.50" y1="301.80" x2="40.30" y2="301.80" stroke="#262626" stroke-width="1.0"/>
<line x1="43.50" y1="286.30" x2="43.50" y2="295.80" stroke="#262626" stroke-width="1.0"/>
<line x1="41.10" y1="286.30" x2="45.90" y2="286.30" stroke="#262626" stroke-width="1.0"/>
<line x1="43.50" y1="295.80" x2="43.50" y2="305.80" stroke="#262626" stroke-width="1.0"/>
<line x1="41.10" y1="305.80" x2="45.90" y2="305.80" stroke="#262626" stroke-width="1.0"/>
<line x1="75.30" y1="305.80" x2="75.30" y2="315.80" stroke="#262626" stroke-width="1.0"/>
<line x1="72.90" y1="305.80" x2="77.70" y2="305.80" stroke="#262626" stroke-width="1.0"/>
<line x1="75.30" y1="315.80" x2="75.30" y2="325.10" stroke="#262626" stroke-width="1.0"/>
<line x1="72.90" y1="325.10" x2="77.70" y2="325.10" stroke="#262626" stroke-width="1.0"/>
<line x1="117.50" y1="327.90" x2="117.50" y2="332.70" stroke="#262626" stroke-width="1.0"/>
<line x1="115.10" y1="327.90" x2="119.90" y2="327.90" stroke="#262626" stroke-width="1.0"/>
<line x1="117.50" y1="332.70" x2="117.50" y2="337.60" stroke="#262626" stroke-width="1.0"/>
<line x1="115.10" y1="337.60" x2="119.90" y2="337.60" stroke="#262626" stroke-width="1.0"/>
<rect x="30.50" y="275.00" width="4.60" height="4.60" fill="#fff" stroke="#0a0a0a" stroke-width="1.2"/>
<rect x="31.70" y="286.00" width="4.60" height="4.60" fill="#fff" stroke="#0a0a0a" stroke-width="1.2"/>
<rect x="35.60" y="289.60" width="4.60" height="4.60" fill="#fff" stroke="#0a0a0a" stroke-width="1.2"/>
<rect x="41.20" y="293.50" width="4.60" height="4.60" fill="#fff" stroke="#0a0a0a" stroke-width="1.2"/>
<rect x="73.00" y="313.50" width="4.60" height="4.60" fill="#fff" stroke="#0a0a0a" stroke-width="1.2"/>
<rect x="115.20" y="330.40" width="4.60" height="4.60" fill="#fff" stroke="#0a0a0a" stroke-width="1.2"/>
<text x="85.20" y="286.20" font-size="7.9" text-anchor="middle">T<tspan dy="2" font-size="5.3" style="stroke-width:0.12px">1/2</tspan><tspan dy="-2"> = ~18 hrs</tspan></text>
<text x="84.70" y="295.90" font-size="8.0" text-anchor="middle">N = 4</text>
<rect x="176.00" y="311.50" width="33.80" height="33.30" fill="#d9d9d9"/>
<line x1="166.80" y1="272.80" x2="166.80" y2="348.20" stroke="#000" stroke-width="1.25"/>
<line x1="163.80" y1="345.20" x2="255.30" y2="345.20" stroke="#000" stroke-width="1.25"/>
<line x1="163.80" y1="345.20" x2="166.80" y2="345.20" stroke="#000" stroke-width="1.25"/>
<text x="163.30" y="348.10" font-size="7.7" text-anchor="end">0</text>
<line x1="163.80" y1="328.35" x2="166.80" y2="328.35" stroke="#000" stroke-width="1.25"/>
<text x="163.30" y="331.25" font-size="7.7" text-anchor="end">25</text>
<line x1="163.80" y1="311.50" x2="166.80" y2="311.50" stroke="#000" stroke-width="1.25"/>
<text x="163.30" y="314.40" font-size="7.7" text-anchor="end">50</text>
<line x1="163.80" y1="294.65" x2="166.80" y2="294.65" stroke="#000" stroke-width="1.25"/>
<text x="163.30" y="297.55" font-size="7.7" text-anchor="end">75</text>
<line x1="163.80" y1="277.80" x2="166.80" y2="277.80" stroke="#000" stroke-width="1.25"/>
<text x="163.30" y="280.70" font-size="7.7" text-anchor="end">100</text>
<line x1="166.80" y1="345.20" x2="166.80" y2="348.20" stroke="#000" stroke-width="1.25"/>
<text x="166.80" y="355.30" font-size="7.7" text-anchor="middle">0</text>
<line x1="184.50" y1="345.20" x2="184.50" y2="348.20" stroke="#000" stroke-width="1.25"/>
<text x="184.50" y="355.30" font-size="7.7" text-anchor="middle">10</text>
<line x1="202.20" y1="345.20" x2="202.20" y2="348.20" stroke="#000" stroke-width="1.25"/>
<text x="202.20" y="355.30" font-size="7.7" text-anchor="middle">20</text>
<line x1="219.90" y1="345.20" x2="219.90" y2="348.20" stroke="#000" stroke-width="1.25"/>
<text x="219.90" y="355.30" font-size="7.7" text-anchor="middle">30</text>
<line x1="237.60" y1="345.20" x2="237.60" y2="348.20" stroke="#000" stroke-width="1.25"/>
<text x="237.60" y="355.30" font-size="7.7" text-anchor="middle">40</text>
<line x1="255.30" y1="345.20" x2="255.30" y2="348.20" stroke="#000" stroke-width="1.25"/>
<text x="255.30" y="355.30" font-size="7.7" text-anchor="middle">50</text>
<text x="211.05" y="362.50" font-size="8.2" text-anchor="middle">Hours post-infusion</text>
<text transform="translate(150.60,312.70) rotate(-90)" font-size="8.2" text-anchor="middle">% of peak</text>
<path d="M167.00,293.40 L167.90,292.60 L172.10,288.10 L177.60,277.70 L209.80,311.30 L251.90,334.40" fill="none" stroke="#747474" stroke-width="1.3"/>
<line x1="167.90" y1="283.70" x2="167.90" y2="292.60" stroke="#262626" stroke-width="1.0"/>
<line x1="165.50" y1="283.70" x2="170.30" y2="283.70" stroke="#262626" stroke-width="1.0"/>
<line x1="167.90" y1="292.60" x2="167.90" y2="302.30" stroke="#262626" stroke-width="1.0"/>
<line x1="165.50" y1="302.30" x2="170.30" y2="302.30" stroke="#262626" stroke-width="1.0"/>
<line x1="172.10" y1="280.50" x2="172.10" y2="288.10" stroke="#262626" stroke-width="1.0"/>
<line x1="169.70" y1="280.50" x2="174.50" y2="280.50" stroke="#262626" stroke-width="1.0"/>
<line x1="172.10" y1="288.10" x2="172.10" y2="294.90" stroke="#262626" stroke-width="1.0"/>
<line x1="169.70" y1="294.90" x2="174.50" y2="294.90" stroke="#262626" stroke-width="1.0"/>
<line x1="177.60" y1="265.50" x2="177.60" y2="277.70" stroke="#262626" stroke-width="1.0"/>
<line x1="175.20" y1="265.50" x2="180.00" y2="265.50" stroke="#262626" stroke-width="1.0"/>
<line x1="177.60" y1="277.70" x2="177.60" y2="289.10" stroke="#262626" stroke-width="1.0"/>
<line x1="175.20" y1="289.10" x2="180.00" y2="289.10" stroke="#262626" stroke-width="1.0"/>
<line x1="209.80" y1="300.50" x2="209.80" y2="311.30" stroke="#262626" stroke-width="1.0"/>
<line x1="207.40" y1="300.50" x2="212.20" y2="300.50" stroke="#262626" stroke-width="1.0"/>
<line x1="209.80" y1="311.30" x2="209.80" y2="322.90" stroke="#262626" stroke-width="1.0"/>
<line x1="207.40" y1="322.90" x2="212.20" y2="322.90" stroke="#262626" stroke-width="1.0"/>
<line x1="251.90" y1="327.20" x2="251.90" y2="334.40" stroke="#262626" stroke-width="1.0"/>
<line x1="249.50" y1="327.20" x2="254.30" y2="327.20" stroke="#262626" stroke-width="1.0"/>
<line x1="251.90" y1="334.40" x2="251.90" y2="341.00" stroke="#262626" stroke-width="1.0"/>
<line x1="249.50" y1="341.00" x2="254.30" y2="341.00" stroke="#262626" stroke-width="1.0"/>
<rect x="164.70" y="291.10" width="4.60" height="4.60" fill="#fff" stroke="#0a0a0a" stroke-width="1.2"/>
<rect x="165.60" y="290.30" width="4.60" height="4.60" fill="#fff" stroke="#0a0a0a" stroke-width="1.2"/>
<rect x="169.80" y="285.80" width="4.60" height="4.60" fill="#fff" stroke="#0a0a0a" stroke-width="1.2"/>
<rect x="175.30" y="275.40" width="4.60" height="4.60" fill="#fff" stroke="#0a0a0a" stroke-width="1.2"/>
<rect x="207.50" y="309.00" width="4.60" height="4.60" fill="#fff" stroke="#0a0a0a" stroke-width="1.2"/>
<rect x="249.60" y="332.10" width="4.60" height="4.60" fill="#fff" stroke="#0a0a0a" stroke-width="1.2"/>
<text x="216.60" y="286.20" font-size="7.9" text-anchor="middle">T<tspan dy="2" font-size="5.3" style="stroke-width:0.12px">1/2</tspan><tspan dy="-2"> = ~18 hrs</tspan></text>
<text x="216.10" y="295.90" font-size="8.0" text-anchor="middle">N = 7</text>
<rect x="432.90" y="311.50" width="27.70" height="33.30" fill="#d9d9d9"/>
<line x1="425.60" y1="272.80" x2="425.60" y2="348.20" stroke="#000" stroke-width="1.25"/>
<line x1="422.60" y1="345.20" x2="513.60" y2="345.20" stroke="#000" stroke-width="1.25"/>
<line x1="422.60" y1="345.20" x2="425.60" y2="345.20" stroke="#000" stroke-width="1.25"/>
<text x="422.10" y="348.10" font-size="7.7" text-anchor="end">0</text>
<line x1="422.60" y1="328.35" x2="425.60" y2="328.35" stroke="#000" stroke-width="1.25"/>
<text x="422.10" y="331.25" font-size="7.7" text-anchor="end">25</text>
<line x1="422.60" y1="311.50" x2="425.60" y2="311.50" stroke="#000" stroke-width="1.25"/>
<text x="422.10" y="314.40" font-size="7.7" text-anchor="end">50</text>
<line x1="422.60" y1="294.65" x2="425.60" y2="294.65" stroke="#000" stroke-width="1.25"/>
<text x="422.10" y="297.55" font-size="7.7" text-anchor="end">75</text>
<line x1="422.60" y1="277.80" x2="425.60" y2="277.80" stroke="#000" stroke-width="1.25"/>
<text x="422.10" y="280.70" font-size="7.7" text-anchor="end">100</text>
<line x1="425.60" y1="345.20" x2="425.60" y2="348.20" stroke="#000" stroke-width="1.25"/>
<text x="425.60" y="355.30" font-size="7.7" text-anchor="middle">0</text>
<line x1="443.20" y1="345.20" x2="443.20" y2="348.20" stroke="#000" stroke-width="1.25"/>
<text x="443.20" y="355.30" font-size="7.7" text-anchor="middle">10</text>
<line x1="460.80" y1="345.20" x2="460.80" y2="348.20" stroke="#000" stroke-width="1.25"/>
<text x="460.80" y="355.30" font-size="7.7" text-anchor="middle">20</text>
<line x1="478.40" y1="345.20" x2="478.40" y2="348.20" stroke="#000" stroke-width="1.25"/>
<text x="478.40" y="355.30" font-size="7.7" text-anchor="middle">30</text>
<line x1="496.00" y1="345.20" x2="496.00" y2="348.20" stroke="#000" stroke-width="1.25"/>
<text x="496.00" y="355.30" font-size="7.7" text-anchor="middle">40</text>
<line x1="513.60" y1="345.20" x2="513.60" y2="348.20" stroke="#000" stroke-width="1.25"/>
<text x="513.60" y="355.30" font-size="7.7" text-anchor="middle">50</text>
<text x="469.60" y="362.50" font-size="8.2" text-anchor="middle">Hours post-infusion</text>
<text transform="translate(409.40,312.70) rotate(-90)" font-size="8.2" text-anchor="middle">% of peak</text>
<path d="M425.60,279.70 L427.30,283.90 L431.00,277.30 L436.40,291.30 L468.40,318.00 L509.40,340.10" fill="none" stroke="#747474" stroke-width="1.3"/>
<line x1="427.30" y1="283.90" x2="427.30" y2="290.20" stroke="#262626" stroke-width="1.0"/>
<line x1="424.90" y1="290.20" x2="429.70" y2="290.20" stroke="#262626" stroke-width="1.0"/>
<line x1="431.00" y1="270.40" x2="431.00" y2="277.30" stroke="#262626" stroke-width="1.0"/>
<line x1="428.60" y1="270.40" x2="433.40" y2="270.40" stroke="#262626" stroke-width="1.0"/>
<line x1="436.40" y1="285.40" x2="436.40" y2="291.30" stroke="#262626" stroke-width="1.0"/>
<line x1="434.00" y1="285.40" x2="438.80" y2="285.40" stroke="#262626" stroke-width="1.0"/>
<line x1="436.40" y1="291.30" x2="436.40" y2="297.50" stroke="#262626" stroke-width="1.0"/>
<line x1="434.00" y1="297.50" x2="438.80" y2="297.50" stroke="#262626" stroke-width="1.0"/>
<rect x="423.30" y="277.40" width="4.60" height="4.60" fill="#fff" stroke="#0a0a0a" stroke-width="1.2"/>
<rect x="425.00" y="281.60" width="4.60" height="4.60" fill="#fff" stroke="#0a0a0a" stroke-width="1.2"/>
<rect x="428.70" y="275.00" width="4.60" height="4.60" fill="#fff" stroke="#0a0a0a" stroke-width="1.2"/>
<rect x="434.10" y="289.00" width="4.60" height="4.60" fill="#fff" stroke="#0a0a0a" stroke-width="1.2"/>
<rect x="466.10" y="315.70" width="4.60" height="4.60" fill="#fff" stroke="#0a0a0a" stroke-width="1.2"/>
<rect x="507.10" y="337.80" width="4.60" height="4.60" fill="#fff" stroke="#0a0a0a" stroke-width="1.2"/>
<text x="478.50" y="286.20" font-size="7.9" text-anchor="middle">T<tspan dy="2" font-size="5.3" style="stroke-width:0.12px">1/2</tspan><tspan dy="-2"> = 15 hrs</tspan></text>
<text x="478.00" y="295.90" font-size="8.0" text-anchor="middle">N = 13</text>
</svg>
</body>
</html>
